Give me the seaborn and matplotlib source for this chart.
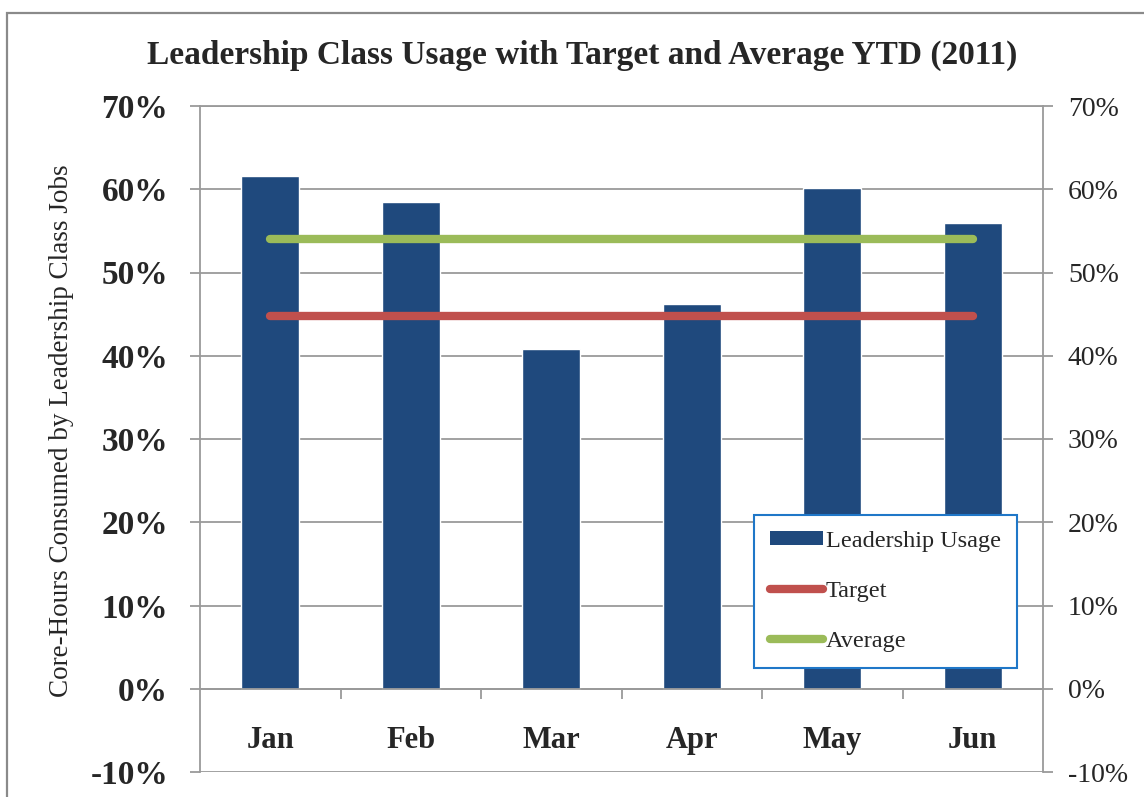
import numpy as np
import pandas as pd
import matplotlib
matplotlib.use("Agg")
import matplotlib.pyplot as plt
import seaborn as sns
from matplotlib.patches import Rectangle, Patch
from matplotlib.lines import Line2D
from matplotlib.ticker import FixedLocator, PercentFormatter

months = ["Jan", "Feb", "Mar", "Apr", "May", "Jun"]
usage = [0.616, 0.585, 0.408, 0.462, 0.602, 0.560]
target = [0.448, 0.448, 0.448, 0.448, 0.448, 0.448]
average = [0.540, 0.540, 0.540, 0.540, 0.540, 0.540]
yticks = [-0.1, 0.0, 0.1, 0.2, 0.3, 0.4, 0.5, 0.6, 0.7]

bar_col = "#1F497D"
red = "#C0504D"
green = "#9BBB59"
grid_col = "#9A9A9A"

sns.set_style("white")
plt.rcParams["font.family"] = ["Liberation Serif", "DejaVu Serif"]
plt.rcParams["axes.unicode_minus"] = False

df = pd.DataFrame({"month": months, "usage": usage})

fig = plt.figure(figsize=(11.44, 7.97), dpi=100)
ax = fig.add_axes([200 / 1144, 1 - 772 / 797, 843 / 1144, 666 / 797])

sns.barplot(data=df, x="month", y="usage", color=bar_col, width=0.41,
            saturation=1, ax=ax, zorder=3)
ax.plot(months, target, color=red, lw=6, solid_capstyle="round", zorder=4)
ax.plot(months, average, color=green, lw=6, solid_capstyle="round", zorder=4)

ax.set_xlim(-0.5, 5.5)
ax.set_ylim(-0.1, 0.7)
ax.set_yticks(yticks)
ax.yaxis.set_major_formatter(PercentFormatter(1.0, decimals=0))
ax.grid(axis="y", color=grid_col, lw=1.3, zorder=0)
ax.set_axisbelow(True)
ax.set_xlabel("")
ax.set_ylabel("")

# category axis sits on the zero line
ax.spines["bottom"].set_position(("data", 0))
ax.spines["bottom"].set_color(grid_col)
ax.spines["bottom"].set_linewidth(1.3)
ax.spines["bottom"].set_zorder(5)
for s in ["left", "right", "top"]:
    ax.spines[s].set_color(grid_col)
    ax.spines[s].set_linewidth(1.3)
ax.xaxis.set_minor_locator(FixedLocator([0.5, 1.5, 2.5, 3.5, 4.5]))
ax.tick_params(axis="x", which="minor", direction="out", length=7,
               width=1.3, color=grid_col, bottom=True)
ax.tick_params(axis="x", which="major", length=0, pad=27, labelsize=22)
ax.tick_params(axis="y", direction="out", length=7, width=1.3,
               color=grid_col, pad=16, labelsize=24, left=True)
for lbl in ax.get_xticklabels() + ax.get_yticklabels():
    lbl.set_fontweight("bold")

ax2 = ax.twinx()
ax2.set_ylim(-0.1, 0.7)
ax2.set_yticks(yticks)
ax2.yaxis.set_major_formatter(PercentFormatter(1.0, decimals=0))
ax2.tick_params(axis="y", direction="out", length=7, width=1.3,
                color=grid_col, pad=11, labelsize=20, right=True)
for s in ax2.spines.values():
    s.set_visible(False)

handles = [
    Patch(facecolor=bar_col, edgecolor="none"),
    Line2D([], [], color=red, lw=6, solid_capstyle="round"),
    Line2D([], [], color=green, lw=6, solid_capstyle="round"),
]
leg = ax2.legend(handles, ["Leadership Usage", "Target", "Average"],
                 loc="upper left", bbox_to_anchor=(0.657, 0.386),
                 borderaxespad=0, fontsize=17.5, frameon=True, fancybox=False,
                 framealpha=1, handlelength=2.2, handleheight=0.5,
                 handletextpad=0.12, labelspacing=1.2, borderpad=0.65)
leg.get_frame().set_edgecolor("#1F77C8")
leg.get_frame().set_linewidth(1.5)
leg.set_zorder(10)

fig.text(582 / 1144, 1 - 55 / 797,
         "Leadership Class Usage with Target and Average YTD (2011)",
         ha="center", va="center", fontsize=24, fontweight="bold")
fig.text(62 / 1144, 1 - 431 / 797,
         "Core-Hours Consumed by Leadership Class Jobs",
         ha="center", va="center", rotation=90, fontsize=19.5)

fig.patches.append(Rectangle((7 / 1144, -0.1), 1.2, 1.1 - 13 / 797,
                             transform=fig.transFigure, fill=False,
                             edgecolor="#8A8A8A", lw=1.6))

fig.savefig("out.png", dpi=100)
